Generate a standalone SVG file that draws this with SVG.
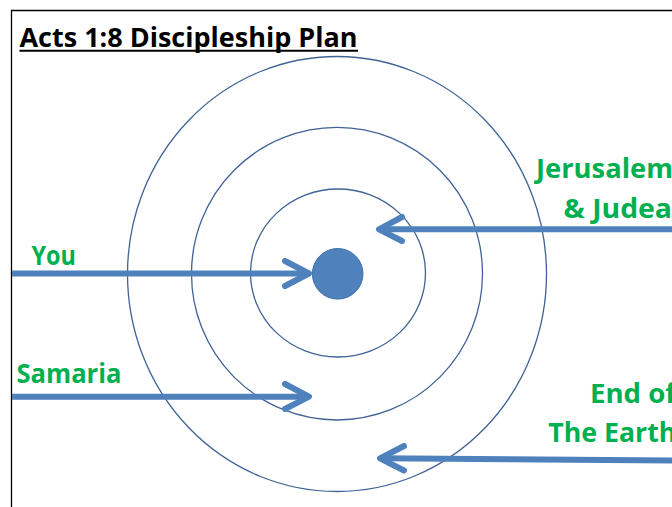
<svg xmlns="http://www.w3.org/2000/svg" width="672" height="507" viewBox="0 0 672 507">
<style>
.ring{fill:none;stroke:#3F6396;stroke-width:1.3}
.arr{fill:none;stroke:#4F81BD;stroke-width:6;stroke-linecap:round;stroke-linejoin:round}
.shaft{fill:none;stroke:#4F81BD;stroke-width:6;stroke-linecap:butt}
.lbl{font-family:"Open Sans","Liberation Sans",sans-serif;font-weight:bold;font-size:26px;fill:#00B050}
.title{font-family:"Open Sans","Liberation Sans",sans-serif;font-weight:bold;font-size:26px;fill:#000}
</style>
<rect width="672" height="507" fill="#fff"/>
<path d="M11.5,507 V10.5 H672" fill="none" stroke="#000" stroke-width="1.3"/>
<g id="title">
<text class="title" x="19.5" y="46.5" textLength="338" lengthAdjust="spacingAndGlyphs">Acts 1:8 Discipleship Plan</text>
<line x1="19.5" y1="50.8" x2="358" y2="50.8" stroke="#000" stroke-width="2"/>
</g>
<g id="rings">
<ellipse id="ring-outer" class="ring" cx="337" cy="274" rx="209.5" ry="217.5"/>
<ellipse id="ring-middle" class="ring" cx="337" cy="273.7" rx="145.5" ry="146.3"/>
<ellipse id="ring-inner" class="ring" cx="338" cy="273" rx="87.5" ry="84"/>
</g>
<g id="center">
<circle cx="337.7" cy="273.8" r="25.3" fill="#4F81BD" stroke="#3F6FA8" stroke-width="1"/>
</g>
<g id="connectors">
<path class="shaft" d="M12,273.5 H309"/>
<path class="arr" d="M285,261 L309,273.5 L285,286"/>
<path class="shaft" d="M12,396.7 H309"/>
<path class="arr" d="M285,384 L309,396.7 L285,409"/>
<path class="shaft" d="M672,229.3 H379"/>
<path class="arr" d="M402,217 L379,229.3 L402,241"/>
<path class="shaft" d="M672,460.5 L380,458.3"/>
<path class="arr" d="M404,446 L380,458.3 L404,470.5"/>
</g>
<g id="label-you"><text class="lbl" x="31.5" y="265" textLength="44.5" lengthAdjust="spacingAndGlyphs">You</text></g>
<g id="label-samaria"><text class="lbl" x="16.5" y="382.7" textLength="105" lengthAdjust="spacingAndGlyphs">Samaria</text></g>
<g id="label-jerusalem">
<text class="lbl" x="536" y="178.3" textLength="137" lengthAdjust="spacingAndGlyphs">Jerusalem</text>
<text class="lbl" x="563.5" y="218.3" textLength="108.5" lengthAdjust="spacingAndGlyphs">&amp; Judea</text>
</g>
<g id="label-earth">
<text class="lbl" x="590" y="403.3" textLength="86" lengthAdjust="spacingAndGlyphs">End of</text>
<text class="lbl" x="548.3" y="441.7" textLength="128" lengthAdjust="spacingAndGlyphs">The Earth</text>
</g>
</svg>
